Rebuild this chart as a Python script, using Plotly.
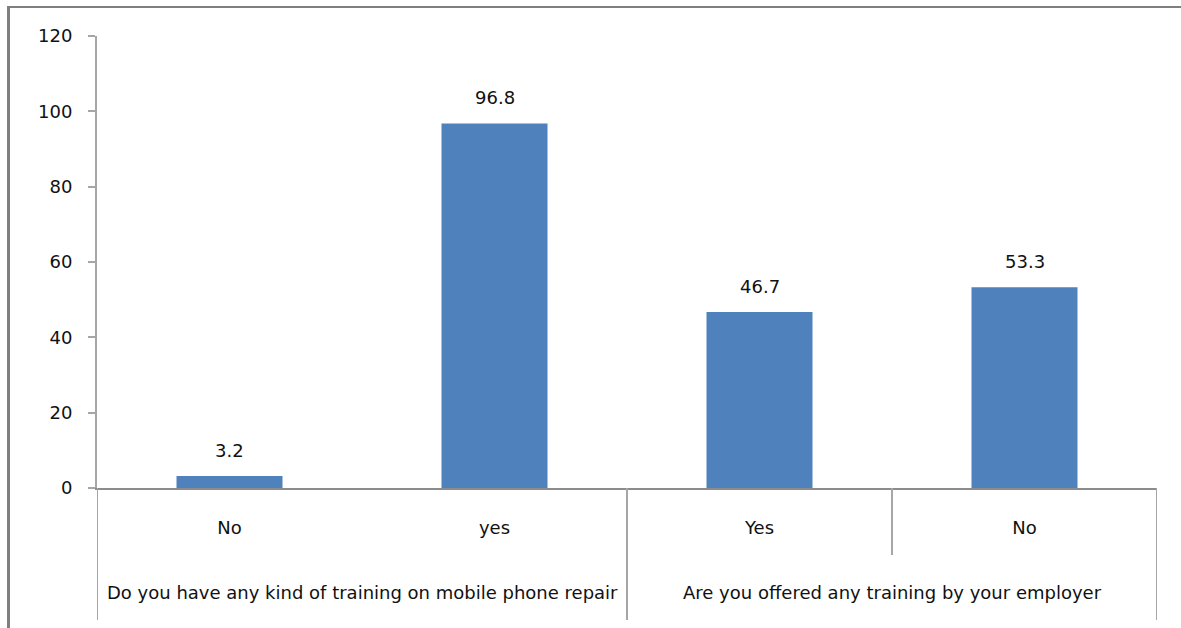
import plotly.graph_objects as go

groups = ["Do you have any kind of training on mobile phone repair",
          "Do you have any kind of training on mobile phone repair",
          "Are you offered any training by your employer",
          "Are you offered any training by your employer"]
answers = ["No", "yes", "Yes", "No"]
values = [3.2, 96.8, 46.7, 53.3]
value_labels = ["3.2", "96.8", "46.7", "53.3"]
y_ticks = [0, 20, 40, 60, 80, 100, 120]

W, H = 1181, 628
L, R, T, B = 97, 24, 36, 140
pw, ph = W - L - R, H - T - B

def px_x(p):
    return (p - L) / pw

def px_y(p):
    return (H - B - p) / ph

FONT = "DejaVu Sans, Arial, sans-serif"
TXT = "#111111"
AX = "#a6a6a6"

pos = list(range(len(answers)))

fig = go.Figure(go.Bar(
    x=pos,
    y=values,
    marker=dict(color="#4F81BD", line=dict(width=0)),
    width=0.4,
    hoverinfo="skip",
))

annotations = []
for p, v, t in zip(pos, values, value_labels):
    annotations.append(dict(x=p, y=v, xref="x", yref="y", text=t, showarrow=False,
                            yanchor="bottom", yshift=13,
                            font=dict(size=18, color=TXT, family=FONT)))

# group labels and separators
group_names = []
for g in groups:
    if g not in group_names:
        group_names.append(g)
shapes = []
for g in group_names:
    idx = [i for i, gg in enumerate(groups) if gg == g]
    annotations.append(dict(x=sum(idx) / len(idx), y=px_y(592), xref="x", yref="paper",
                            text=g, showarrow=False, yanchor="middle",
                            font=dict(size=18, color=TXT, family=FONT)))
    # outer boundaries of group
    for b in (idx[0] - 0.5, idx[-1] + 0.5):
        shapes.append(dict(type="line", xref="x", yref="paper", x0=b, x1=b,
                           y0=0, y1=px_y(620), line=dict(color=AX, width=2)))
    # inner boundaries within group
    for i in idx[1:]:
        if g == group_names[-1]:
            shapes.append(dict(type="line", xref="x", yref="paper", x0=i - 0.5, x1=i - 0.5,
                               y0=0, y1=px_y(555), line=dict(color=AX, width=2)))

# outer frame (top and left edges visible)
shapes.append(dict(type="line", xref="paper", yref="paper", x0=px_x(7), x1=px_x(1181),
                   y0=px_y(7), y1=px_y(7), line=dict(color="#7f7f7f", width=2)))
shapes.append(dict(type="line", xref="paper", yref="paper", x0=px_x(8.5), x1=px_x(8.5),
                   y0=px_y(6), y1=px_y(628), line=dict(color="#7f7f7f", width=3)))

fig.update_layout(
    width=W, height=H,
    margin=dict(l=L, r=R, t=T, b=B),
    paper_bgcolor="white", plot_bgcolor="white",
    showlegend=False,
    font=dict(family=FONT, size=18, color=TXT),
    annotations=annotations,
    shapes=shapes,
)

fig.update_yaxes(
    range=[0, 120], tickvals=y_ticks, ticktext=[str(v) for v in y_ticks],
    showgrid=False, zeroline=False,
    showline=True, linecolor=AX, linewidth=2,
    ticks="outside", ticklen=7, tickcolor=AX, tickwidth=2,
    ticklabelstandoff=12,
    tickfont=dict(size=18, color=TXT, family=FONT),
)

fig.update_xaxes(
    range=[-0.5, len(answers) - 0.5],
    tickvals=pos, ticktext=answers,
    showgrid=False, zeroline=False,
    showline=True, linecolor="#8c8c8c", linewidth=2,
    ticks="", ticklabelstandoff=22,
    tickfont=dict(size=18, color=TXT, family=FONT),
)

fig.write_html("out.html")
